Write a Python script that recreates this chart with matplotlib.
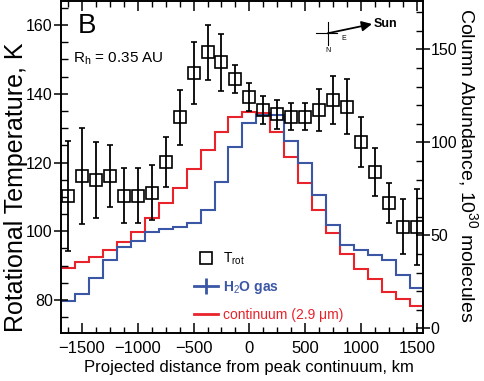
import matplotlib
matplotlib.use('Agg')
import matplotlib.pyplot as plt
from matplotlib.lines import Line2D
from matplotlib.patches import FancyArrowPatch
from matplotlib.ticker import MultipleLocator

plt.rcParams['font.family'] = ['Liberation Sans', 'DejaVu Sans']
plt.rcParams['mathtext.fontset'] = 'custom'
plt.rcParams['mathtext.rm'] = 'Liberation Sans'
plt.rcParams['mathtext.it'] = 'Liberation Sans'

# projected distance of bin centres, km
dist = [-1625, -1500, -1375, -1250, -1125, -1000, -875, -750, -625, -500,
        -375, -250, -125, 0, 125, 250, 375, 500, 625, 750,
        875, 1000, 1125, 1250, 1375, 1500]

# rotational temperature, K
t_rot = [110.3, 116.1, 115.0, 116.1, 110.3, 110.3, 111.2, 120.2, 133.2, 146.1,
         152.1, 149.2, 144.3, 139.1, 135.3, 134.1, 133.3, 133.3, 135.3, 138.2,
         136.2, 126.0, 117.3, 108.3, 101.3, 101.3]
t_err = [16, 14, 11, 9, 8, 8, 8, 7.3, 8, 9,
         8, 8.3, 4, 4, 4, 4.2, 3.9, 3.9, 6, 7,
         8, 7.3, 7, 5.8, 8, 11]

# column abundance, 1e30 molecules
h2o = [14.7, 18.4, 27.2, 36.7, 43.9, 47.1, 51.9, 53.4, 54.3, 56.5,
       63.6, 78.5, 97.6, 110.5, 114.7, 114.7, 100.9, 88.7, 71.7, 55.5,
       44.8, 42.1, 39.4, 36.7, 28.7, 21.5]
cont = [32.3, 35.5, 38.2, 42.1, 46.6, 51.9, 59.1, 67.2, 75.6, 85.6,
        95.9, 105.4, 113.8, 116.3, 115.6, 105.7, 92.3, 78.0, 63.6, 51.4,
        40.0, 31.7, 26.3, 19.7, 15.6, 12.0]

blue = '#3a56a5'
red = '#e8232b'

W, H = 484, 381
fig = plt.figure(figsize=(W/100, H/100), dpi=100)
ax = fig.add_axes([61/W, 1 - 333/H, 361.5/W, 332/H])
ax2 = ax.twinx()

edges = [d - 62.5 for d in dist] + [dist[-1] + 62.5]
ax2.stairs(cont, edges, color=red, lw=1.5, baseline=None)
ax2.stairs(h2o, edges, color=blue, lw=1.5, baseline=None)

ax.set_zorder(ax2.get_zorder() + 1)
ax.patch.set_visible(False)
ax.errorbar(dist, t_rot, yerr=t_err, fmt='s', mfc='none', mec='k', mew=1.2,
            ms=9, ecolor='k', elinewidth=1.3, capsize=2.5, capthick=1.2)

ax.set_xlim(-1688, 1551)
ax.set_ylim(70.4, 167.0)
ax2.set_ylim(-2.5, 176.0)

ax.xaxis.set_major_locator(MultipleLocator(500))
ax.xaxis.set_minor_locator(MultipleLocator(125))
ax.yaxis.set_major_locator(MultipleLocator(20))
ax.yaxis.set_minor_locator(MultipleLocator(5))
ax2.yaxis.set_major_locator(MultipleLocator(50))
ax2.yaxis.set_minor_locator(MultipleLocator(10))

for a in (ax, ax2):
    for s in a.spines.values():
        s.set_linewidth(1.2)
ax.tick_params(axis='x', which='major', direction='in', length=7, width=1.1,
               top=True, labelsize=12, pad=6)
ax.tick_params(axis='x', which='minor', direction='in', length=4, width=1.0, top=True)
ax.tick_params(axis='y', which='major', direction='inout', length=10, width=1.1,
               labelsize=11.5, pad=1)
ax.tick_params(axis='y', which='minor', direction='in', length=5, width=1.0)
ax2.tick_params(axis='y', which='major', direction='inout', length=10, width=1.1,
                labelsize=11.5, pad=1)
ax2.tick_params(axis='y', which='minor', direction='in', length=5, width=1.0)

ax.set_xlabel('Projected distance from peak continuum, km', fontsize=12)
ax.xaxis.set_label_coords(0.52, -0.081)
ax.set_ylabel('Rotational Temperature, K', fontsize=18, va='center')
ax.yaxis.set_label_coords(-0.125, 0.44)
ax2.set_ylabel('Column Abundance, 10$^{30}$ molecules', fontsize=14,
               rotation=270, va='center')
ax2.yaxis.set_label_coords(1.125, 0.506)

handles = [Line2D([], [], ls='none', marker='s', mfc='none', mec='k', mew=1.2, ms=9),
           Line2D([], [], color=blue, lw=2, marker='|', ms=12, mew=2),
           Line2D([], [], color=red, lw=2)]
labels = ['T$_\\mathrm{rot}$', 'H$_2$O gas', 'continuum (2.9 \u03bcm)']
leg = ax.legend(handles, labels, loc='upper left', bbox_to_anchor=(194/W, 1 - 251/H),
                bbox_transform=fig.transFigure, frameon=False, fontsize=10,
                handlelength=1.75, handletextpad=0.35, labelspacing=0.85,
                borderpad=0, borderaxespad=0)
leg.get_texts()[1].set_color(blue)
leg.get_texts()[1].set_fontweight('bold')
leg.get_texts()[2].set_color(red)

fig.text(87/W, 1 - 26/H, 'B', fontsize=20, ha='center', va='center')
fig.text(73/W, 1 - 59/H, 'R$_\\mathrm{h}$ = 0.35 AU', fontsize=11, ha='left', va='center')


def fp(x, y):
    return (x/W, 1 - y/H)


# compass with direction to the Sun
fig.add_artist(Line2D([316/W, 337/W], [1 - 33.3/H, 1 - 33.3/H], transform=fig.transFigure,
                      color='k', lw=0.8))
fig.add_artist(Line2D([327.7/W, 327.7/W], [1 - 22/H, 1 - 45/H], transform=fig.transFigure,
                      color='k', lw=0.8))
fig.add_artist(FancyArrowPatch(
    fp(327.7, 33.3), fp(372, 24), transform=fig.transFigure, arrowstyle='-|>',
    mutation_scale=15, color='k', lw=1.3, shrinkA=0, shrinkB=0))
fig.text(*fp(374, 24), 'Sun', fontsize=9, fontweight='bold', ha='left', va='center')
fig.text(*fp(327.7, 50), 'N', fontsize=5, ha='center', va='center')
fig.text(*fp(344, 38), 'E', fontsize=5, ha='center', va='center')

fig.savefig('out.png', dpi=100)
